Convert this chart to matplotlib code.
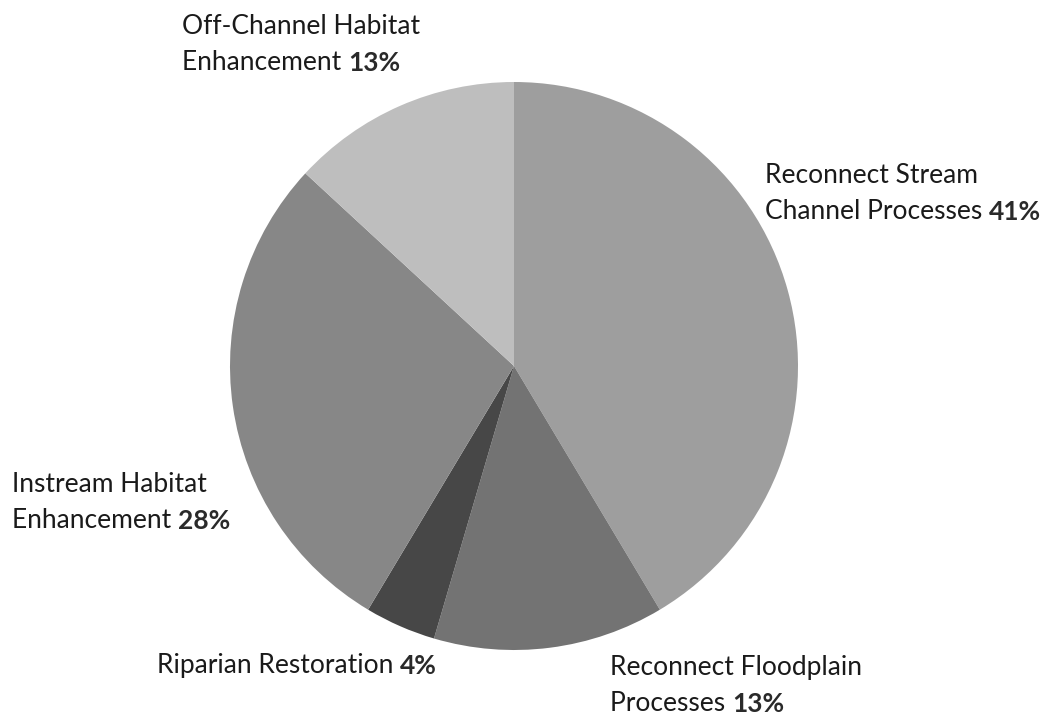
import matplotlib.pyplot as plt

labels = ['Reconnect Stream\nChannel Processes', 'Reconnect Floodplain\nProcesses',
          'Riparian Restoration', 'Instream Habitat\nEnhancement',
          'Off-Channel Habitat\nEnhancement']
values = [41, 13, 4, 28, 13]
colors = ['#9e9e9e', '#737373', '#474747', '#878787', '#bebebe']

# label anchor (left, baseline of last line) in pixel space, y from top
label_pos = [(765, 219), (610, 711), (157, 673), (12, 528), (182, 70)]

W, H = 1054, 717
fig = plt.figure(figsize=(W / 100, H / 100), dpi=100)
ax = fig.add_axes([0, 0, 1, 1])

cx, cy, r = 514, H - 366, 284
ax.pie(values, colors=colors, startangle=90, counterclock=False,
       center=(cx, cy), radius=r, frame=True,
       wedgeprops=dict(linewidth=0))
ax.set_xlim(0, W)
ax.set_ylim(0, H)
ax.set_aspect('equal')
ax.axis('off')

font = 'Lato'
fs = 19
for lab, v, (x, y) in zip(labels, values, label_pos):
    lines = lab.split('\n')
    t = ax.text(x, H - y, lines[-1] + ' ', fontsize=fs, family=font,
                color='#1a1a1a', ha='left', va='baseline')
    ax.annotate(f'{v}%', xy=(1, 0), xycoords=t, fontsize=fs, family=font,
                fontweight='bold', color='#2a2a2a', ha='left', va='bottom')
    if len(lines) > 1:
        ax.text(x, H - y + 36, lines[0], fontsize=fs, family=font,
                color='#1a1a1a', ha='left', va='baseline')

fig.savefig('out.png', dpi=100, facecolor='white')
